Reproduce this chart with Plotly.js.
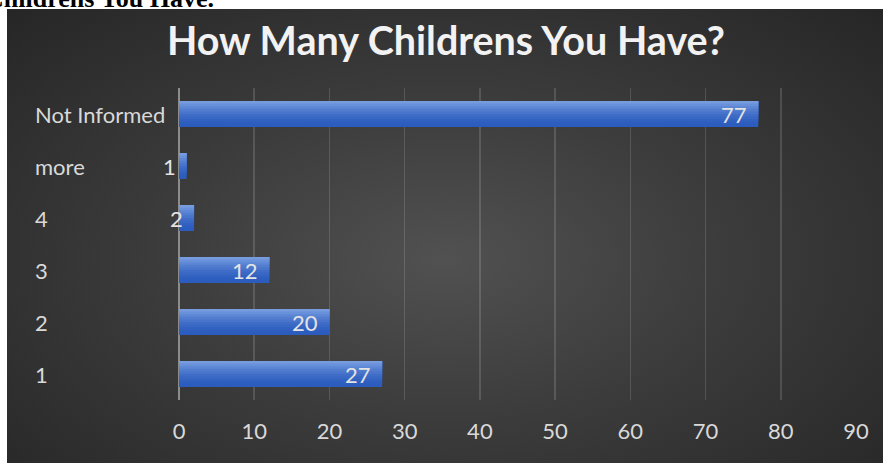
<!DOCTYPE html>
<html>
<head>
<meta charset="utf-8">
<script src="https://cdn.plot.ly/plotly-3.0.1.min.js"></script>
<style>
  html, body { margin:0; padding:0; width:883px; height:463px; background:#ffffff; overflow:hidden; }
  #bg { position:absolute; left:7px; top:9px; width:876px; height:454px;
        background: radial-gradient(ellipse at 50% 55%, #515151 0%, #3c3c3c 45%, #262626 100%); }
  #chart { position:absolute; left:0; top:0; width:883px; height:463px; }
</style>
</head>
<body>
<div id="bg"></div>
<div id="chart"></div>
<script>
// Data
const categories = ["1", "2", "3", "4", "more", "Not Informed"];
const counts = [27, 20, 12, 2, 1, 77];
const xTickVals = [0, 10, 20, 30, 40, 50, 60, 70, 80, 90];
const chartTitle = "How Many Childrens You Have?";
const pageHeading = "Childrens You Have.";

// Bar drawn as layered horizontal colour bands to mimic a vertical gradient
const nBands = 10;
const barWidth = 0.5;
const topColor = [0x76, 0x9c, 0xdf];
const bottomColor = [0x2b, 0x5c, 0xbe];
const traces = [];
for (let i = 0; i < nBands; i++) {
  const t = i / (nBands - 1); // 0 = bottom band, 1 = top band
  const c = bottomColor.map((b, k) => Math.round(b + (topColor[k] - b) * Math.pow(t, 1.6)));
  const start = -barWidth / 2 + i * (barWidth / nBands);
  traces.push({
    type: 'bar',
    orientation: 'h',
    y: categories,
    x: counts,
    width: barWidth / 2 - start,
    offset: start,
    marker: { color: 'rgb(' + c.join(',') + ')', line: { width: 0 } },
    hoverinfo: i === 0 ? 'x+y' : 'skip',
    showlegend: false
  });
}

const annotations = [];
// category labels, left aligned (y by category index)
categories.forEach((cat, i) => {
  annotations.push({
    xref: 'paper', yref: 'y', x: 0, y: i, xshift: -146,
    xanchor: 'left', yanchor: 'middle', showarrow: false,
    text: cat, font: { family: 'Lato, sans-serif', size: 22, color: '#d9d9d9' }
  });
});
// data labels at inside end
categories.forEach((cat, i) => {
  annotations.push({
    xref: 'x', yref: 'y', x: counts[i], y: i, xshift: -9,
    xanchor: 'right', yanchor: 'middle', showarrow: false,
    text: String(counts[i]), font: { family: 'Lato, sans-serif', size: 22, color: '#e3e3e3' }
  });
});
// clipped heading at very top of the page
annotations.push({
  xref: 'paper', yref: 'paper', x: (216 - 179) / 677, y: (400 - 15) / 312, xanchor: 'right', yanchor: 'bottom',
  showarrow: false, text: '<b>' + pageHeading + '</b>',
  font: { family: 'Liberation Serif, Times New Roman, serif', size: 26, color: '#000000' }
});

const layout = {
  width: 883, height: 463,
  margin: { l: 179, r: 27, t: 88, b: 63, pad: 0 },
  paper_bgcolor: 'rgba(0,0,0,0)',
  plot_bgcolor: 'rgba(0,0,0,0)',
  barmode: 'overlay',
  title: {
    text: '<b>' + chartTitle + '</b>',
    font: { family: 'Lato, sans-serif', size: 39.5, color: '#f2f2f2' },
    x: 0.505, xref: 'container', xanchor: 'center',
    y: 0.91, yref: 'container', yanchor: 'middle'
  },
  xaxis: {
    range: [0, 90],
    tickvals: xTickVals,
    ticks: 'outside', ticklen: 12, tickcolor: 'rgba(0,0,0,0)',
    tickfont: { family: 'Lato, sans-serif', size: 22, color: '#d9d9d9' },
    showgrid: true, gridcolor: 'rgba(255,255,255,0.14)', gridwidth: 1.5,
    zeroline: true, zerolinecolor: '#8c8c8c', zerolinewidth: 2,
    showline: false, fixedrange: true
  },
  yaxis: {
    type: 'category',
    categoryorder: 'array', categoryarray: categories,
    showticklabels: false, ticks: '',
    showgrid: false, zeroline: false, showline: false, fixedrange: true
  },
  annotations: annotations,
  showlegend: false
};

Plotly.newPlot('chart', traces, layout, { displayModeBar: false, staticPlot: true });
</script>
</body>
</html>
